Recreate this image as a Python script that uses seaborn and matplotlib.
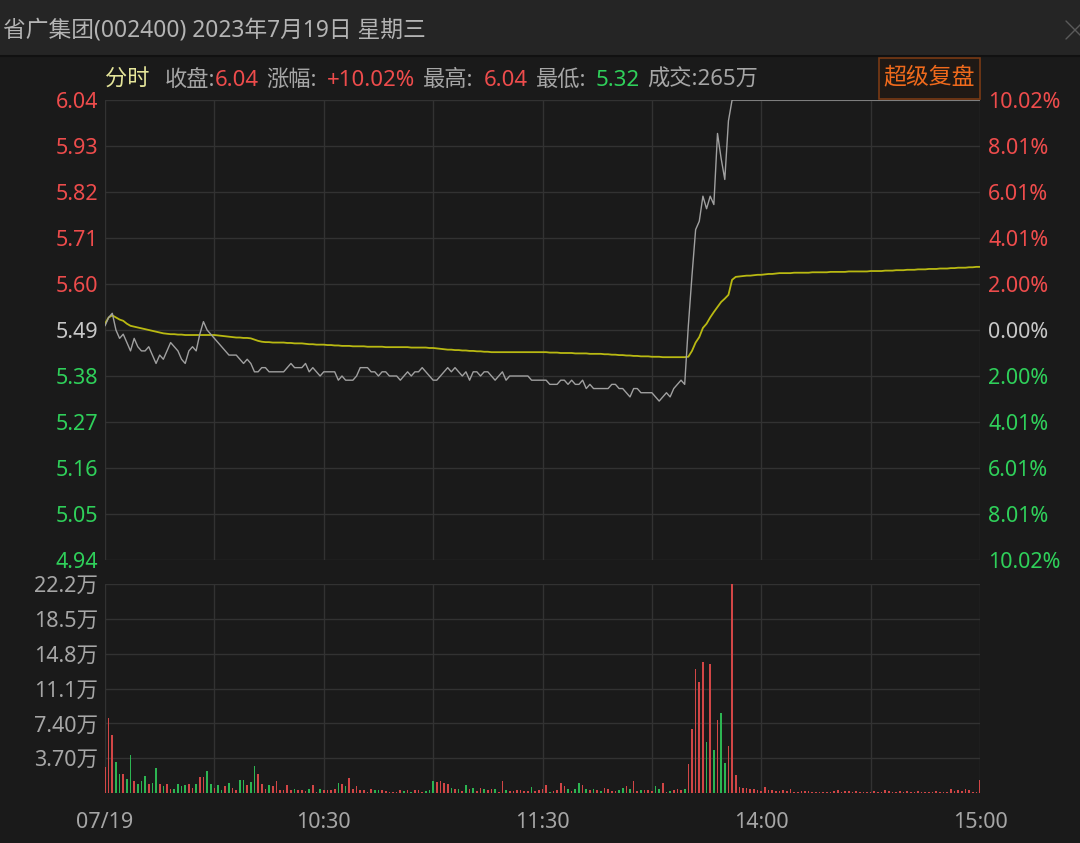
import matplotlib
matplotlib.use('Agg')
import matplotlib.pyplot as plt
import seaborn as sns
import pandas as pd
from matplotlib.patches import Rectangle
from matplotlib.lines import Line2D

# ---------------- data ----------------
title = "省广集团(002400) 2023年7月19日 星期三"
prev_close = 5.49

price_ticks = [6.04, 5.93, 5.82, 5.71, 5.60, 5.49, 5.38, 5.27, 5.16, 5.05, 4.94]
pct_labels = ["10.02%", "8.01%", "6.01%", "4.01%", "2.00%", "0.00%",
              "2.00%", "4.01%", "6.01%", "8.01%", "10.02%"]
vol_ticks = [0, 3.7, 7.4, 11.1, 14.8, 18.5, 22.2]
vol_labels = ["", "3.70万", "7.40万", "11.1万", "14.8万", "18.5万", "22.2万"]
time_ticks = [0, 30, 60, 90, 120, 150, 180, 210, 240]
time_labels = ["07/19", "", "10:30", "", "11:30", "", "14:00", "", "15:00"]

price = [
    5.50, 5.52, 5.53, 5.49, 5.47, 5.48, 5.46, 5.44, 5.47, 5.45,
    5.44, 5.44, 5.45, 5.43, 5.41, 5.43, 5.42, 5.44, 5.46, 5.45,
    5.44, 5.42, 5.41, 5.44, 5.45, 5.44, 5.48, 5.51, 5.49, 5.48,
    5.47, 5.46, 5.45, 5.44, 5.43, 5.43, 5.43, 5.42, 5.41, 5.42,
    5.41, 5.39, 5.39, 5.40, 5.40, 5.39, 5.39, 5.39, 5.39, 5.39,
    5.40, 5.41, 5.40, 5.40, 5.40, 5.41, 5.39, 5.40, 5.39, 5.38,
    5.39, 5.39, 5.39, 5.39, 5.37, 5.38, 5.37, 5.37, 5.37, 5.38,
    5.40, 5.40, 5.40, 5.39, 5.39, 5.38, 5.39, 5.39, 5.38, 5.38,
    5.38, 5.37, 5.38, 5.39, 5.38, 5.39, 5.39, 5.40, 5.39, 5.38,
    5.37, 5.37, 5.38, 5.39, 5.40, 5.39, 5.40, 5.39, 5.38, 5.39,
    5.37, 5.39, 5.39, 5.38, 5.39, 5.39, 5.38, 5.37, 5.38, 5.39,
    5.37, 5.38, 5.38, 5.38, 5.38, 5.38, 5.38, 5.37, 5.37, 5.37,
    5.37, 5.37, 5.36, 5.36, 5.36, 5.37, 5.37, 5.36, 5.37, 5.36,
    5.36, 5.37, 5.35, 5.36, 5.35, 5.35, 5.35, 5.35, 5.35, 5.36,
    5.36, 5.35, 5.35, 5.34, 5.33, 5.35, 5.35, 5.34, 5.34, 5.34,
    5.34, 5.33, 5.32, 5.33, 5.34, 5.33, 5.35, 5.36, 5.37, 5.36,
    5.50, 5.62, 5.73, 5.75, 5.81, 5.78, 5.81, 5.79, 5.96, 5.90,
    5.85, 5.99, 6.04, 6.04, 6.04, 6.04, 6.04, 6.04, 6.04, 6.04,
    6.04, 6.04, 6.04, 6.04, 6.04, 6.04, 6.04, 6.04, 6.04, 6.04,
    6.04, 6.04, 6.04, 6.04, 6.04, 6.04, 6.04, 6.04, 6.04, 6.04,
    6.04, 6.04, 6.04, 6.04, 6.04, 6.04, 6.04, 6.04, 6.04, 6.04,
    6.04, 6.04, 6.04, 6.04, 6.04, 6.04, 6.04, 6.04, 6.04, 6.04,
    6.04, 6.04, 6.04, 6.04, 6.04, 6.04, 6.04, 6.04, 6.04, 6.04,
    6.04, 6.04, 6.04, 6.04, 6.04, 6.04, 6.04, 6.04, 6.04, 6.04,
    6.04,
]

avg_price = [
    5.505, 5.520, 5.525, 5.520, 5.515, 5.512, 5.505, 5.500, 5.498, 5.496,
    5.494, 5.492, 5.490, 5.488, 5.486, 5.484, 5.482, 5.481, 5.480, 5.480,
    5.479, 5.479, 5.478, 5.478, 5.478, 5.478, 5.478, 5.478, 5.478, 5.478,
    5.478, 5.477, 5.476, 5.475, 5.474, 5.473, 5.472, 5.472, 5.471, 5.471,
    5.470, 5.467, 5.464, 5.462, 5.461, 5.461, 5.460, 5.460, 5.460, 5.460,
    5.459, 5.459, 5.458, 5.458, 5.458, 5.457, 5.456, 5.456, 5.455, 5.455,
    5.455, 5.454, 5.454, 5.453, 5.453, 5.452, 5.452, 5.452, 5.451, 5.451,
    5.451, 5.451, 5.450, 5.450, 5.450, 5.450, 5.450, 5.449, 5.449, 5.449,
    5.449, 5.449, 5.449, 5.449, 5.448, 5.448, 5.448, 5.448, 5.448, 5.447,
    5.447, 5.446, 5.445, 5.444, 5.443, 5.443, 5.442, 5.442, 5.441, 5.441,
    5.440, 5.440, 5.439, 5.439, 5.438, 5.438, 5.437, 5.437, 5.437, 5.437,
    5.437, 5.437, 5.437, 5.437, 5.437, 5.437, 5.437, 5.437, 5.437, 5.437,
    5.437, 5.437, 5.436, 5.436, 5.436, 5.435, 5.435, 5.435, 5.435, 5.434,
    5.434, 5.434, 5.434, 5.433, 5.433, 5.433, 5.433, 5.432, 5.432, 5.431,
    5.431, 5.430, 5.430, 5.429, 5.429, 5.428, 5.428, 5.427, 5.427, 5.427,
    5.426, 5.426, 5.426, 5.425, 5.425, 5.425, 5.425, 5.425, 5.425, 5.425,
    5.426, 5.440, 5.460, 5.473, 5.495, 5.505, 5.520, 5.533, 5.545, 5.557,
    5.565, 5.574, 5.610, 5.617, 5.618, 5.619, 5.620, 5.620, 5.621, 5.622,
    5.622, 5.623, 5.624, 5.624, 5.625, 5.626, 5.626, 5.626, 5.626, 5.627,
    5.627, 5.627, 5.627, 5.627, 5.628, 5.628, 5.628, 5.628, 5.628, 5.629,
    5.629, 5.629, 5.629, 5.629, 5.630, 5.630, 5.630, 5.630, 5.630, 5.630,
    5.631, 5.631, 5.631, 5.631, 5.632, 5.632, 5.632, 5.633, 5.633, 5.633,
    5.634, 5.634, 5.634, 5.635, 5.635, 5.635, 5.636, 5.636, 5.636, 5.637,
    5.637, 5.637, 5.638, 5.638, 5.639, 5.639, 5.639, 5.640, 5.640, 5.641,
    5.641,
]

# volume in 万 shares
volume = [
    2.8, 8.0, 6.2, 3.3, 2.0, 2.0, 1.5, 4.0, 1.3, 1.0,
    1.3, 1.8, 1.0, 1.1, 2.7, 1.0, 0.75, 1.0, 0.4, 0.4,
    1.0, 0.7, 0.9, 1.0, 0.5, 1.0, 1.7, 1.7, 2.3, 1.0,
    0.5, 0.9, 0.35, 0.7, 1.05, 0.55, 0.35, 1.35, 1.35, 0.9,
    1.2, 2.9, 2.05, 1.0, 0.46, 0.8, 0.7, 1.24, 0.35, 0.28,
    0.9, 0.28, 0.4, 0.35, 0.35, 0.2, 0.4, 0.9, 0.1, 0.4,
    0.28, 0.28, 0.35, 0.46, 1.1, 0.92, 0.7, 1.6, 0.46, 0.7,
    0.28, 0.28, 0.1, 0.46, 0.28, 0.28, 0.28, 0.2, 0.1, 0.07,
    0.1, 0.28, 0.2, 0.35, 0.1, 0.28, 0.35, 0.1, 0.2, 0.35,
    1.28, 1.17, 1.24, 1.06, 0.92, 0.57, 0.46, 0.46, 0.2, 0.8,
    0.46, 0.57, 0.2, 0.53, 0.46, 0.28, 0.4, 0.4, 0.1, 1.24,
    0.28, 0.18, 0.2, 0.28, 0.35, 0.2, 0.2, 0.64, 0.18, 0.28,
    0.46, 0.9, 0.1, 0.18, 0.28, 1.06, 0.7, 0.46, 0.2, 0.46,
    1.1, 0.8, 0.46, 0.28, 0.46, 0.28, 0.2, 0.57, 0.46, 0.18,
    0.18, 0.35, 0.57, 0.75, 0.46, 1.28, 0.2, 0.3, 0.3, 0.35,
    0.2, 0.75, 0.4, 1.1, 0.1, 0.2, 0.3, 0.4, 0.35, 0.4,
    3.05, 6.85, 13.2, 11.8, 13.9, 5.4, 13.7, 4.6, 7.8, 8.5,
    3.2, 5.0, 22.2, 1.9, 0.64, 0.53, 0.53, 0.46, 0.4, 0.35,
    0.2, 0.64, 0.3, 0.32, 0.2, 0.2, 0.3, 0.2, 0.4, 0.15,
    0.15, 0.25, 0.25, 0.2, 0.15, 0.15, 0.15, 0.1, 0.15, 0.15,
    0.2, 0.32, 0.15, 0.25, 0.2, 0.1, 0.25, 0.15, 0.1, 0.1,
    0.1, 0.25, 0.1, 0.15, 0.32, 0.25, 0.15, 0.1, 0.2, 0.15,
    0.2, 0.1, 0.15, 0.25, 0.15, 0.1, 0.15, 0.15, 0.25, 0.1,
    0.1, 0.15, 0.43, 0.25, 0.32, 0.2, 0.43, 0.32, 0.1, 0.15,
    1.4,
]

vol_dir = ("rrrggrggrg" "ggrggrgrrg" "gggrrgrrgg" "rggrgrrggr" "ggrrrgrrrr"
           "rrgrrrgrrg" "rrrrgrgrrr" "rrrrggrrrr" "rrgrgrrrgg" "grrrrgrgrg"
           "rgrrgrrgrr" "grrrrrrgrr" "rrgrrrrgrg" "grgrgrgrrr" "rggrgrrgrr"
           "rggrrgrrrg" "rrrrrgrgrg" "grrrrrrrrr"
           "rrrrrrrrrrrrrrrrrrrrrrrrrrrrrrrrrrrrrrrrrrrrrrrrrrrrrrrrrrrrr")

minutes = list(range(len(price)))

# ---------------- style ----------------
sns.set_theme(style='dark')
FAM = ['Noto Sans', 'Noto Sans CJK SC']
plt.rcParams['font.family'] = FAM
plt.rcParams['axes.unicode_minus'] = False

BG = '#1a1a1a'
GRID = '#323232'
RED = '#ee4c4c'
GREEN = '#2fd05a'
GRAY = '#a6a6a6'
FS = 15.5

W, H = 1080, 843
fig = plt.figure(figsize=(W / 100, H / 100), dpi=100, facecolor=BG)


def fx(px):
    return px / W


def fy(py):
    return 1 - py / H


# title bar
fig.add_artist(Rectangle((0, fy(55)), 1, 55 / H, transform=fig.transFigure,
                         facecolor='#252525', edgecolor='none', zorder=0))
fig.add_artist(Line2D([0, 1], [fy(56), fy(56)], transform=fig.transFigure,
                      color='#111111', lw=1.5))
fig.text(fx(3), fy(30), title, color='#b4b4b4', fontsize=16.4, va='center', ha='left')
fig.add_artist(Line2D([fx(1066), fx(1084)], [fy(21), fy(39)], transform=fig.transFigure,
                      color='#5a5a5a', lw=1))
fig.add_artist(Line2D([fx(1066), fx(1084)], [fy(39), fy(21)], transform=fig.transFigure,
                      color='#5a5a5a', lw=1))

# axes
ax = fig.add_axes([fx(105), fy(560), 875 / W, 460 / H])
axv = fig.add_axes([fx(105), fy(793), 875 / W, 209 / H])

for a in (ax, axv):
    a.set_facecolor(BG)
    for s in a.spines.values():
        s.set_visible(False)
    a.set_xlim(0, 240)
    a.set_xticks(time_ticks)
    a.grid(True, color=GRID, lw=1)
    a.set_axisbelow(True)
    a.set_xlabel('')
    a.set_ylabel('')

df = pd.DataFrame({'minute': minutes, 'price': price, 'avg': avg_price,
                   'volume': volume, 'dir': list(vol_dir)})

sns.lineplot(data=df, x='minute', y='avg', ax=ax, color='#b9b912', lw=1.3)
sns.lineplot(data=df, x='minute', y='price', ax=ax, color='#a0a0a0', lw=1.0)
ax.set_xlabel('')
ax.set_ylabel('')
ax.set_ylim(min(price_ticks), max(price_ticks))
ax.set_yticks(price_ticks)
ax.set_yticklabels([f"{v:.2f}" for v in price_ticks])
ax.tick_params(axis='x', length=0, labelbottom=False)
ax.tick_params(axis='y', length=0, pad=5, labelsize=FS)


def level_color(v):
    if abs(v - prev_close) < 1e-9:
        return '#c8c8c8'
    return RED if v > prev_close else GREEN


for lbl, v in zip(ax.get_yticklabels(), price_ticks):
    lbl.set_color(level_color(v))

ax2 = ax.twinx()
ax2.set_ylim(ax.get_ylim())
ax2.set_yticks(price_ticks)
ax2.set_yticklabels(pct_labels)
ax2.grid(False)
for s in ax2.spines.values():
    s.set_visible(False)
ax2.tick_params(axis='y', length=0, pad=6, labelsize=FS)
for lbl, v in zip(ax2.get_yticklabels(), price_ticks):
    lbl.set_color(level_color(v))

# volume
bar_colors = ['#d24646' if d == 'r' else '#2db552' for d in df['dir']]
axv.bar(df['minute'], df['volume'], width=0.45, color=bar_colors, linewidth=0)
axv.set_ylim(0, max(vol_ticks))
axv.set_yticks(vol_ticks)
axv.set_yticklabels(vol_labels)
axv.set_xticklabels(time_labels)
axv.tick_params(axis='y', length=0, pad=5, labelsize=FS, labelcolor=GRAY)
axv.tick_params(axis='x', length=0, pad=14, labelsize=FS, labelcolor=GRAY)

# info line
segments = [("分时", '#e6e69a', 0), ("收盘:", GRAY, 15), ("6.04", RED, 0),
            ("涨幅:", GRAY, 7), ("+10.02%", RED, 10), ("最高:", GRAY, 8),
            ("6.04", RED, 10), ("最低:", GRAY, 8), ("5.32", GREEN, 10),
            ("成交:265万", GRAY, 7)]
prev = None
for s, c, gap in segments:
    if prev is None:
        prev = fig.text(fx(105), fy(80), s, color=c, fontsize=16, va='center', ha='left')
    else:
        prev = ax.annotate(s, xy=(1, 0), xycoords=prev, xytext=(gap * 0.72, 0),
                           textcoords='offset points', va='bottom', ha='left',
                           color=c, fontsize=16, annotation_clip=False)

# button
fig.add_artist(Rectangle((fx(879), fy(99)), 101 / W, 41 / H, transform=fig.transFigure,
                         facecolor='#1f1915', edgecolor='#7a3a14', lw=1.2))
fig.text(fx(929.5), fy(78), "超级复盘", color='#f06a1c', fontsize=16.5,
         va='center', ha='center')

fig.savefig('out.png', dpi=100, facecolor=BG)
